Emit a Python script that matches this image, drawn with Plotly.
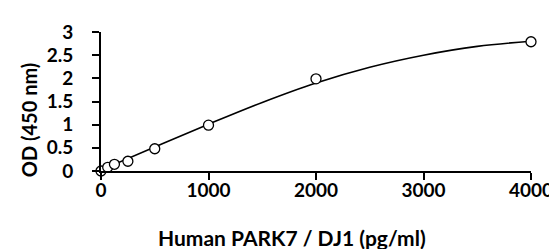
import plotly.graph_objects as go

conc = [0, 62.5, 125, 250, 500, 1000, 2000, 4000]
od = [0.0, 0.08, 0.145, 0.21, 0.48, 0.99, 1.99, 2.79]

fit_x = [0, 500, 1000, 1500, 2000, 2500, 3000, 3500, 4000]
fit_y = [0.02, 0.52, 1.01, 1.48, 1.9, 2.24, 2.5, 2.69, 2.8]

x_ticks = [0, 1000, 2000, 3000, 4000]
y_ticks = [0, 0.5, 1, 1.5, 2, 2.5, 3]
y_labels = ["0", "0.5", "1", "1.5", "2", "2.5", "3"]

FONT = "Lato"

fig = go.Figure()
fig.add_trace(go.Scatter(x=fit_x, y=fit_y, mode="lines",
                         line=dict(color="black", width=1.6, shape="spline"),
                         cliponaxis=False, hoverinfo="skip"))
fig.add_trace(go.Scatter(x=conc, y=od, mode="markers",
                         marker=dict(symbol="circle", size=10, color="white",
                                     line=dict(color="black", width=1.3)),
                         cliponaxis=False))

fig.update_layout(
    width=557, height=249,
    margin=dict(l=93, r=28, t=18, b=86),
    paper_bgcolor="white", plot_bgcolor="white",
    showlegend=False,
    font=dict(family=FONT, color="black"),
    xaxis=dict(range=[0, 4000], tickvals=x_ticks, ticks="outside", ticklen=7,
               tickwidth=2, tickcolor="black", showline=True, linecolor="black",
               linewidth=2, showgrid=False, zeroline=False,
               ticklabelstandoff=-6,
               tickfont=dict(family=FONT, size=19, color="black", weight="bold")),
    yaxis=dict(range=[0, 3], tickvals=y_ticks, ticktext=y_labels, ticks="outside",
               ticklen=7, tickwidth=2, tickcolor="black", showline=True,
               linecolor="black", linewidth=2, showgrid=False, zeroline=False,
               ticklabelstandoff=15,
               tickfont=dict(family=FONT, size=19, color="black", weight="bold")),
    annotations=[
        dict(text="Human PARK7 / DJ1 (pg/ml)", xref="paper", yref="paper",
             x=(287 - 93) / 436, y=-(247 - 163) / 145, showarrow=False,
             xanchor="center", yanchor="bottom",
             font=dict(family=FONT, size=21, color="black", weight="bold")),
        dict(text="OD (450 nm)", xref="paper", yref="paper", textangle=-90,
             x=-(93 - 20) / 436, y=(163 - 110) / 145, showarrow=False,
             xanchor="center", yanchor="middle",
             font=dict(family=FONT, size=20, color="black", weight="bold")),
    ],
)

fig.write_html("out.html")
